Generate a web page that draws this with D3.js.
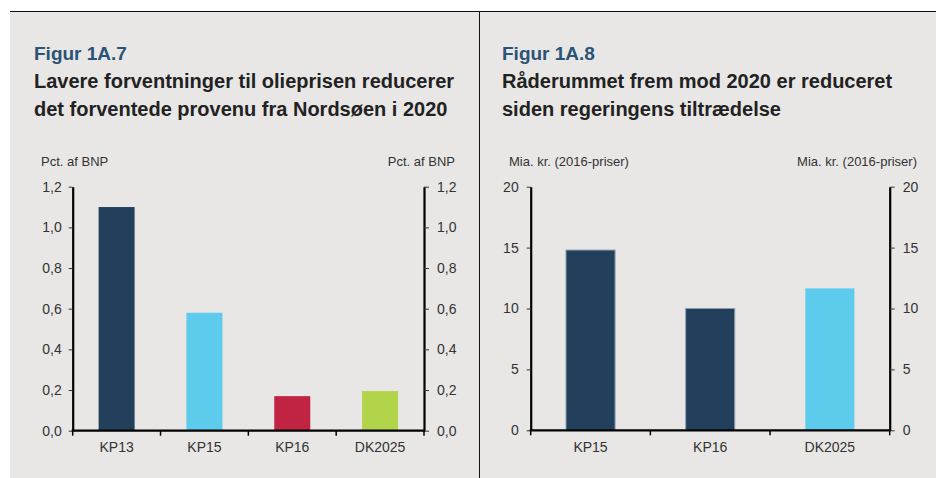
<!DOCTYPE html>
<html>
<head>
<meta charset="utf-8">
<script src="https://cdn.jsdelivr.net/npm/d3@7"></script>
<style>
    body { margin: 0; background: #fff; }
    text { font-family: "Liberation Sans", Arial, sans-serif; }
</style>
</head>
<body>
<div id="chart"></div>
<script>
// left figure: oil revenue, pct. of GDP
const left_categories = ['KP13', 'KP15', 'KP16', 'DK2025']
const left_values = [1.10, 0.58, 0.17, 0.195]
const left_colors = ['#22405c', '#5ccbec', '#c12443', '#b2d44b']
const left_ticks = [0, 0.2, 0.4, 0.6, 0.8, 1.0, 1.2]

// right figure: room for manoeuvre, bn. kr.
const right_categories = ['KP15', 'KP16', 'DK2025']
const right_values = [14.8, 10.0, 11.65]
const right_colors = ['#22405c', '#22405c', '#5ccbec']
const right_ticks = [0, 5, 10, 15, 20]

const width = 936
const height = 478

const svg = d3.select('#chart')
    .append('svg')
    .attr('width', width)
    .attr('height', height)

// panel backgrounds
svg.append('rect').attr('x', 10).attr('y', 11).attr('width', 469).attr('height', height - 11).attr('fill', '#e8e7e5')
svg.append('rect').attr('x', 480).attr('y', 11).attr('width', width - 480).attr('height', height - 11).attr('fill', '#e8e7e5')
svg.append('line').attr('x1', 10).attr('x2', width).attr('y1', 11.5).attr('y2', 11.5).attr('stroke', '#111').attr('stroke-width', 1)
svg.append('line').attr('x1', 479.5).attr('x2', 479.5).attr('y1', 11).attr('y2', height).attr('stroke', '#111').attr('stroke-width', 1)

function draw_panel(opts) {
    const g = svg.append('g')

    g.append('text')
        .attr('x', opts.textX).attr('y', 60)
        .attr('font-size', 19).attr('font-weight', 'bold').attr('fill', '#2b5277')
        .text(opts.figur)
    opts.title.forEach((line, i) => {
        g.append('text')
            .attr('x', opts.textX).attr('y', 88 + i * 28)
            .attr('font-size', 20).attr('font-weight', 'bold').attr('fill', '#222')
            .text(line)
    })

    g.append('text')
        .attr('x', opts.textX + 7).attr('y', 166)
        .attr('font-size', 13).attr('fill', '#333')
        .text(opts.unit)
    g.append('text')
        .attr('x', opts.unitRight).attr('y', 166)
        .attr('font-size', 13).attr('fill', '#333').attr('text-anchor', 'end')
        .text(opts.unit)

    const x = d3.scaleBand()
        .domain(opts.categories)
        .range([opts.x0, opts.x1])

    const y = d3.scaleLinear()
        .domain([0, opts.ticks[opts.ticks.length - 1]])
        .range([opts.y0, 186.7])

    const barW = x.bandwidth() * 0.41

    g.selectAll('rect.bar')
        .data(opts.values)
        .enter()
        .append('rect')
        .attr('class', 'bar')
        .attr('x', (d, i) => x(opts.categories[i]) + (x.bandwidth() - barW) / 2)
        .attr('width', barW)
        .attr('y', d => y(d))
        .attr('height', d => y(0) - y(d))
        .attr('fill', (d, i) => opts.colors[i])
        .attr('stroke', (d, i) => opts.outline && opts.colors[i] == '#22405c' ? '#8c9cae' : 'none')
        .attr('stroke-width', 1)

    const fmt = opts.fmt

    const leftAxis = g.append('g')
        .attr('transform', `translate(${opts.x0},0)`)
        .call(d3.axisLeft(y).tickValues(opts.ticks).tickFormat(fmt).tickSize(4).tickSizeOuter(0).tickPadding(opts.padL))
    const rightAxis = g.append('g')
        .attr('transform', `translate(${opts.x1},0)`)
        .call(d3.axisRight(y).tickValues(opts.ticks).tickFormat(fmt).tickSize(5).tickSizeOuter(0).tickPadding(opts.padR))

    for (const ax of [leftAxis, rightAxis]) {
        ax.select('.domain').attr('stroke', '#000').attr('stroke-width', 2.2)
        ax.selectAll('.tick line').attr('stroke', '#333')
        ax.selectAll('.tick text').attr('font-size', 14).attr('fill', '#333').style('font-family', '"Liberation Sans", Arial, sans-serif')
    }

    // category boundaries on the x axis
    const bounds = opts.categories.map(c => x(c)).concat([opts.x1])
    g.selectAll('line.xtick')
        .data(bounds)
        .enter()
        .append('line')
        .attr('x1', d => d).attr('x2', d => d)
        .attr('y1', y(0)).attr('y2', y(0) + 5)
        .attr('stroke', '#000').attr('stroke-width', 1.5)

    g.append('line')
        .attr('x1', opts.x0 - 1).attr('x2', opts.x1 + 1)
        .attr('y1', y(0)).attr('y2', y(0))
        .attr('stroke', '#000').attr('stroke-width', 2.2)

    g.selectAll('text.cat')
        .data(opts.categories)
        .enter()
        .append('text')
        .attr('class', 'cat')
        .attr('x', d => x(d) + x.bandwidth() / 2)
        .attr('y', 452)
        .attr('text-anchor', 'middle')
        .attr('font-size', 14).attr('fill', '#333')
        .text(d => d)
}

draw_panel({
    figur: 'Figur 1A.7',
    title: ['Lavere forventninger til olieprisen reducerer', 'det forventede provenu fra Nordsøen i 2020'],
    unit: 'Pct. af BNP',
    textX: 34,
    unitRight: 455,
    categories: left_categories,
    values: left_values,
    colors: left_colors,
    ticks: left_ticks,
    fmt: d => d3.format('.1f')(d).replace('.', ','),
    x0: 72.7, x1: 424, y0: 430.7,
    padL: 7, padR: 8,
    outline: false
})

draw_panel({
    figur: 'Figur 1A.8',
    title: ['Råderummet frem mod 2020 er reduceret', 'siden regeringens tiltrædelse'],
    unit: 'Mia. kr. (2016-priser)',
    textX: 502,
    unitRight: 917,
    categories: right_categories,
    values: right_values,
    colors: right_colors,
    ticks: right_ticks,
    fmt: d => d3.format('d')(d),
    x0: 530.7, x1: 889.7, y0: 430.3,
    padL: 8, padR: 8,
    outline: true
})
</script>
</body>
</html>
